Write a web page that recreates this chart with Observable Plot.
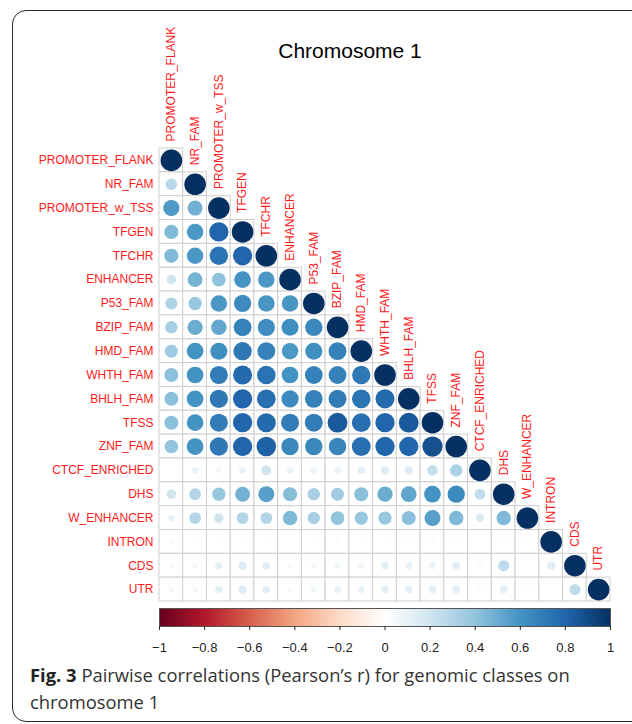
<!DOCTYPE html>
<html>
<head>
<meta charset="utf-8">
<script src="https://cdn.jsdelivr.net/npm/d3@7"></script>
<script src="https://cdn.jsdelivr.net/npm/@observablehq/plot@0.6"></script>
<style>
  html, body { margin: 0; padding: 0; background: #fff; }
  #page { position: relative; width: 632px; height: 724px; overflow: hidden; }
  #frame { position: absolute; left: 12px; top: 10px; width: 660px; height: 712px; box-sizing: border-box;
           border: 1.6px solid #2a2a2a; border-radius: 14px; }
  #title { position: absolute; top: 40px; left: 350px; transform: translateX(-50%); white-space: nowrap;
           font-family: "Liberation Sans", Arial, sans-serif; font-size: 21px; line-height: 21px; color: #000; }
  #main { position: absolute; left: 0; top: 0; }
  #bar { position: absolute; left: 0; top: 600px; }
  .cap { position: absolute; left: 30px; white-space: nowrap;
         font-family: "Open Sans", sans-serif; font-size: 18.4px; line-height: 27px; color: #333; }
  #cap1 { top: 661px; }
  #cap2 { top: 688px; }
  #cap1 b { color: #222; }
  svg { overflow: visible; }
</style>
</head>
<body>
<div id="page">
  <div id="frame"></div>
  <div id="main"></div>
  <div id="title">Chromosome 1</div>
  <div id="bar"></div>
  <div class="cap" id="cap1"><b>Fig. 3</b> Pairwise correlations (Pearson’s r) for genomic classes on</div>
  <div class="cap" id="cap2">chromosome 1</div>
</div>
<script>
// Genomic classes (row/column order)
const categories = ["PROMOTER_FLANK","NR_FAM","PROMOTER_w_TSS","TFGEN","TFCHR","ENHANCER","P53_FAM",
  "BZIP_FAM","HMD_FAM","WHTH_FAM","BHLH_FAM","TFSS","ZNF_FAM","CTCF_ENRICHED","DHS","W_ENHANCER",
  "INTRON","CDS","UTR"];

// Lower-triangle Pearson correlations, one row per class (columns 0..row)
const rPROMOTER_FLANK = [1];
const rNR_FAM         = [0.28, 1];
const rPROMOTER_w_TSS = [0.57, 0.48, 1];
const rTFGEN          = [0.44, 0.58, 0.80, 1];
const rTFCHR          = [0.44, 0.58, 0.74, 0.80, 1];
const rENHANCER       = [0.20, 0.47, 0.41, 0.60, 0.58, 1];
const rP53_FAM        = [0.31, 0.38, 0.58, 0.64, 0.59, 0.59, 1];
const rBZIP_FAM       = [0.33, 0.50, 0.52, 0.68, 0.63, 0.62, 0.65, 1];
const rHMD_FAM        = [0.36, 0.60, 0.62, 0.72, 0.68, 0.58, 0.62, 0.68, 1];
const rWHTH_FAM       = [0.42, 0.60, 0.70, 0.78, 0.74, 0.60, 0.68, 0.68, 0.72, 1];
const rBHLH_FAM       = [0.42, 0.60, 0.72, 0.80, 0.76, 0.64, 0.68, 0.70, 0.74, 0.78, 1];
const rTFSS           = [0.42, 0.60, 0.70, 0.80, 0.78, 0.70, 0.70, 0.84, 0.76, 0.80, 0.84, 1];
const rZNF_FAM        = [0.40, 0.60, 0.72, 0.80, 0.82, 0.65, 0.65, 0.66, 0.76, 0.80, 0.80, 0.88, 1];
const rCTCF_ENRICHED  = [0.01, 0.10, 0.06, 0.10, 0.21, 0.09, 0.09, 0.10, 0.12, 0.15, 0.15, 0.24, 0.32, 1];
const rDHS            = [0.20, 0.30, 0.38, 0.48, 0.55, 0.43, 0.33, 0.36, 0.42, 0.50, 0.53, 0.60, 0.64, 0.25, 1];
const rW_ENHANCER     = [0.10, 0.30, 0.20, 0.30, 0.30, 0.45, 0.33, 0.40, 0.38, 0.38, 0.42, 0.55, 0.45, 0.15, 0.45, 1];
const rINTRON         = [0.04, 0.02, 0.03, 0.03, 0.02, 0.01, 0.02, 0.03, 0.02, 0.03, 0.03, 0.04, 0.03, 0.01, 0.03, 0.02, 1];
const rCDS            = [0.05, 0.06, 0.12, 0.15, 0.13, 0.05, 0.06, 0.08, 0.08, 0.12, 0.10, 0.10, 0.12, 0.04, 0.26, 0.005, 0.14, 1];
const rUTR            = [0.06, 0.06, 0.12, 0.15, 0.13, 0.05, 0.07, 0.10, 0.10, 0.12, 0.12, 0.12, 0.12, 0.04, 0.12, 0.03, 0.005, 0.26, 1];

const lowerRows = [rPROMOTER_FLANK, rNR_FAM, rPROMOTER_w_TSS, rTFGEN, rTFCHR, rENHANCER, rP53_FAM,
  rBZIP_FAM, rHMD_FAM, rWHTH_FAM, rBHLH_FAM, rTFSS, rZNF_FAM, rCTCF_ENRICHED, rDHS, rW_ENHANCER,
  rINTRON, rCDS, rUTR];

// Colour bar tick labels
const barTicks = [-1, -0.8, -0.6, -0.4, -0.2, 0, 0.2, 0.4, 0.6, 0.8, 1];
// corrplot RdBu palette stops
const paletteStops = ["#67001F","#B2182B","#D6604D","#F4A582","#FDDBC7","#FFFFFF",
                      "#D1E5F0","#92C5DE","#4393C3","#2166AC","#053061"];

const cells = [];
lowerRows.forEach((vals, i) => vals.forEach((v, j) => cells.push({row: categories[i], col: categories[j], value: v})));

const colorScale = {type: "linear", domain: barTicks, range: paletteStops, interpolate: "rgb"};
const font = "'Liberation Sans', Arial, sans-serif";

const main = Plot.plot({
  width: 632, height: 610,
  marginTop: 148, marginBottom: 9, marginLeft: 159, marginRight: 22,
  style: {fontFamily: font, background: "transparent"},
  x: {domain: categories, padding: 0, round: false, axis: null},
  y: {domain: categories, padding: 0, round: false, axis: null},
  color: colorScale,
  r: {type: "sqrt", domain: [0, 1], range: [0, 10.8]},
  marks: [
    Plot.cell(cells, {x: "col", y: "row", fill: "white", stroke: "#cfcfcf", strokeWidth: 1}),
    Plot.dot(cells, {x: "col", y: "row", r: d => Math.abs(d.value), fill: "value"}),
    Plot.text(categories, {x: d => d, y: d => d, text: d => d, rotate: -90, textAnchor: "start",
      dy: -19, fill: "#ff1a1a", fontSize: 12}),
    Plot.axisY({tickSize: 0, tickPadding: 6, color: "#ff1a1a", fontSize: 12, label: null})
  ]
});
document.getElementById("main").append(main);

const bar = Plot.plot({
  width: 632, height: 62,
  marginTop: 8, marginBottom: 36, marginLeft: 159, marginRight: 22,
  style: {fontFamily: font, background: "transparent"},
  x: {domain: [-1, 1], axis: null},
  y: {domain: [0, 1], axis: null},
  color: colorScale,
  marks: [
    Plot.raster({x1: -1, x2: 1, y1: 0, y2: 1, fill: (x, y) => x, width: 451, height: 1}),
    Plot.frame({stroke: "#555", strokeWidth: 1}),
    Plot.axisX({ticks: barTicks, tickSize: 4, tickPadding: 12, fontSize: 13, color: "#222",
      tickFormat: d3.format("~g"), label: null})
  ]
});
document.getElementById("bar").append(bar);
</script>
</body>
</html>
